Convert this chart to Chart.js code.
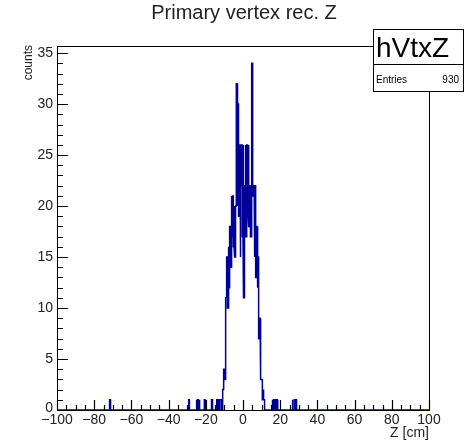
<!DOCTYPE html>
<html>
<head>
<meta charset="utf-8">
<script src="https://cdn.jsdelivr.net/npm/chart.js@4/dist/chart.umd.min.js"></script>
<style>
  html, body { margin: 0; padding: 0; background: #fff; }
  #wrap { width: 465px; height: 441px; position: relative; }
</style>
</head>
<body>
<div id="wrap"><canvas id="c" width="465" height="441"></canvas></div>
<script>
// histogram hVtxZ: 500 bins over [-100, 100] cm
const zMin = -100, zMax = 100, nBins = 500;
const binW = (zMax - zMin) / nBins;

// central peak, counts per bin starting at low edge peakStart
const peakStart = -14.0;
const peakCounts = [
  1, 0, 1, 0, 1, 1, 0, 1, 2, 4, 3,
  10, 11, 15, 10, 16, 12, 18, 14, 21, 17, 21, 16, 20, 15, 20,
  32, 20, 30, 19, 26, 15, 22, 26, 17, 26, 11, 22, 26, 17, 26, 19, 26, 18, 22, 17, 23,
  34, 21, 22, 15, 22, 13, 18, 12, 15, 7, 9, 6, 3, 3, 1, 2, 1
];
// isolated single entries in the tails (bin low edges)
const tailBins = [-71.6, -29.2, -25.2, -24.4, -23.6, -20.8, -16.8,
  15.6, 16.4, 17.2, 18.0, 26.4, 27.6, 28.4];

const xTicks = [-100, -80, -60, -40, -20, 0, 20, 40, 60, 80, 100];
const yTicks = [0, 5, 10, 15, 20, 25, 30, 35];
const yMax = 35.7;
const entries = 930;

const counts = new Array(nBins).fill(0);
peakCounts.forEach((c, i) => {
  counts[Math.round((peakStart - zMin) / binW) + i] = c;
});
tailBins.forEach((z) => { counts[Math.round((z - zMin) / binW)] += 1; });

// step outline of the histogram
const pts = [];
counts.forEach((c, i) => {
  const lo = zMin + i * binW;
  pts.push({x: lo, y: c}, {x: lo + binW, y: c});
});

const minus = (v) => (v < 0 ? "\u2212" + Math.abs(v) : String(v));
const FONT = "'Liberation Sans', Arial, sans-serif";

const rootFrame = {
  id: "rootFrame",
  afterDraw(chart) {
    const {ctx, chartArea: a, scales: {x, y}} = chart;
    ctx.save();
    ctx.strokeStyle = "#000";
    ctx.lineWidth = 1;
    // frame
    ctx.strokeRect(a.left + 0.5, a.top + 0.5, a.right - a.left, a.bottom - a.top);
    ctx.lineWidth = 1.2;
    ctx.beginPath();
    // x ticks, inward
    for (let v = zMin; v <= zMax; v += 5) {
      const px = Math.round(x.getPixelForValue(v)) + 0.5;
      const len = v % 20 === 0 ? 10 : 5;
      ctx.moveTo(px, a.bottom); ctx.lineTo(px, a.bottom - len);
    }
    // y ticks, inward
    for (let v = 0; v <= 35; v += 1) {
      const py = Math.round(y.getPixelForValue(v)) + 0.5;
      const len = v % 5 === 0 ? 11 : 6;
      ctx.moveTo(a.left, py); ctx.lineTo(a.left + len, py);
    }
    ctx.stroke();

    ctx.fillStyle = "#222";
    ctx.font = "14px " + FONT;
    ctx.textAlign = "center"; ctx.textBaseline = "top";
    xTicks.forEach((v) => ctx.fillText(minus(v), x.getPixelForValue(v), a.bottom + 3));
    ctx.textAlign = "right"; ctx.textBaseline = "middle";
    yTicks.forEach((v) => ctx.fillText(String(v), a.left - 4, y.getPixelForValue(v) - (v === 0 ? 2 : 0)));

    // axis titles
    ctx.font = "14px " + FONT;
    ctx.textAlign = "right"; ctx.textBaseline = "alphabetic";
    ctx.fillText("Z [cm]", a.right, 437);
    ctx.font = "12px " + FONT;
    ctx.save();
    ctx.translate(32, a.top - 1);
    ctx.rotate(-Math.PI / 2);
    ctx.fillText("counts", 0, 0);
    ctx.restore();

    // title
    ctx.font = "20px " + FONT;
    ctx.textAlign = "center"; ctx.textBaseline = "middle";
    ctx.fillText("Primary vertex rec. Z", 244, 13);

    // stats box
    const bx = 373, by = 29, bw = 90, bh = 62;
    ctx.fillStyle = "#fff";
    ctx.fillRect(bx, by, bw, bh);
    ctx.strokeStyle = "#000"; ctx.lineWidth = 1;
    ctx.strokeRect(bx + 0.5, by + 0.5, bw, bh);
    ctx.beginPath();
    ctx.moveTo(bx, 64.5); ctx.lineTo(bx + bw, 64.5);
    ctx.stroke();
    ctx.fillStyle = "#000";
    ctx.font = "28px " + FONT;
    ctx.textAlign = "left"; ctx.textBaseline = "alphabetic";
    ctx.fillText("hVtxZ", bx + 3, 57);
    ctx.font = "10px " + FONT;
    ctx.textBaseline = "middle";
    ctx.fillText("Entries", bx + 3, 80);
    ctx.textAlign = "right";
    ctx.fillText(String(entries), bx + bw - 4, 80);
    ctx.restore();
  }
};

new Chart(document.getElementById("c"), {
  type: "line",
  data: {
    datasets: [{
      data: pts,
      borderColor: "#000099",
      borderWidth: 1.5,
      pointRadius: 0,
      fill: false,
      tension: 0,
    }],
  },
  options: {
    responsive: false,
    animation: false,
    events: [],
    layout: { padding: { left: 57, right: 36, top: 46, bottom: 31 } },
    plugins: { legend: { display: false }, tooltip: { enabled: false } },
    scales: {
      x: { type: "linear", min: zMin, max: zMax, display: false },
      y: { type: "linear", min: 0, max: yMax, display: false },
    },
  },
  plugins: [rootFrame],
});
</script>
</body>
</html>
